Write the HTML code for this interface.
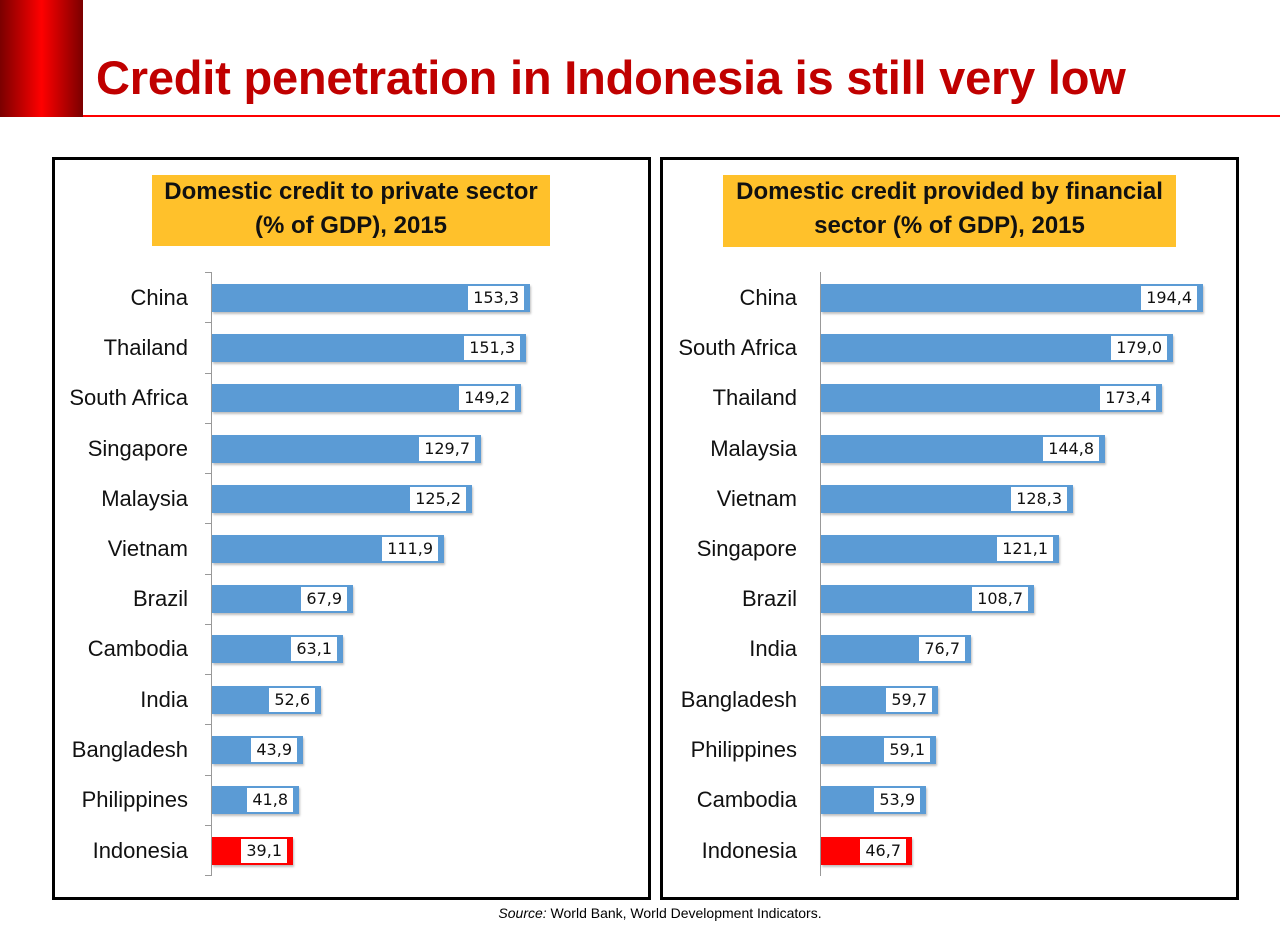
<!DOCTYPE html>
<html><head><meta charset="utf-8"><style>
body{margin:0;width:1280px;height:931px;background:#fff;position:relative;overflow:hidden;font-family:"Liberation Sans",sans-serif}
.redblk{position:absolute;left:0;top:0;width:83px;height:117px;background:linear-gradient(90deg,#7a0000,#ff0000 50%,#7a0000)}
.rline{position:absolute;left:83px;top:115px;width:1197px;height:2px;background:#ff0000}
.title{position:absolute;left:96px;top:50px;font-size:47px;font-weight:bold;color:#c00000;white-space:nowrap;letter-spacing:-0.2px}
.panel{position:absolute;top:157px;height:737px;border:3px solid #000;box-sizing:content-box}
.yb{position:absolute;background:#ffc12b;font-weight:bold;font-size:24px;text-align:center;line-height:34px;color:#111;white-space:nowrap}
.ax{position:absolute;width:1px;background:#999}
.tk{position:absolute;height:1px;width:6px;background:#999}
.cat{position:absolute;text-align:right;font-size:22px;color:#111;width:200px;line-height:28px}
.bar{position:absolute;height:28px;background:#5b9bd5;box-shadow:1px 2px 2px rgba(0,0,0,0.25)}
.bar.r{background:#ff0000}
.lb{position:absolute;right:6px;top:2px;height:24px;line-height:24px;background:#fff;font-family:"DejaVu Sans",sans-serif;font-size:16px;padding:0 5px;color:#111}
.src{position:absolute;top:905px;left:0;width:1320px;text-align:center;font-size:14px}
</style></head><body>
<div class="redblk"></div><div class="rline"></div>
<div class="title">Credit penetration in Indonesia is still very low</div>
<div class="panel" style="left:52px;width:593px"></div>
<div class="panel" style="left:660px;width:573px"></div>
<div class="yb" style="left:152px;top:175px;width:398px;height:71px">Domestic credit to private sector<br>(% of GDP), 2015</div>
<div class="yb" style="left:723px;top:175px;width:453px;height:72px">Domestic credit provided by financial<br>sector (% of GDP), 2015</div>

<div class="ax" style="left:211px;top:272px;height:604px"></div>
<div class="ax" style="left:820px;top:272px;height:604px"></div>

<!-- left -->
<div class="cat" style="left:-12px;top:284px">China</div><div class="bar" style="left:212px;top:284px;width:318px"><span class="lb">153,3</span></div>
<div class="cat" style="left:-12px;top:334px">Thailand</div><div class="bar" style="left:212px;top:334px;width:314px"><span class="lb">151,3</span></div>
<div class="cat" style="left:-12px;top:384px">South Africa</div><div class="bar" style="left:212px;top:384px;width:309px"><span class="lb">149,2</span></div>
<div class="cat" style="left:-12px;top:435px">Singapore</div><div class="bar" style="left:212px;top:435px;width:269px"><span class="lb">129,7</span></div>
<div class="cat" style="left:-12px;top:485px">Malaysia</div><div class="bar" style="left:212px;top:485px;width:260px"><span class="lb">125,2</span></div>
<div class="cat" style="left:-12px;top:535px">Vietnam</div><div class="bar" style="left:212px;top:535px;width:232px"><span class="lb">111,9</span></div>
<div class="cat" style="left:-12px;top:585px">Brazil</div><div class="bar" style="left:212px;top:585px;width:141px"><span class="lb">67,9</span></div>
<div class="cat" style="left:-12px;top:635px">Cambodia</div><div class="bar" style="left:212px;top:635px;width:131px"><span class="lb">63,1</span></div>
<div class="cat" style="left:-12px;top:686px">India</div><div class="bar" style="left:212px;top:686px;width:109px"><span class="lb">52,6</span></div>
<div class="cat" style="left:-12px;top:736px">Bangladesh</div><div class="bar" style="left:212px;top:736px;width:91px"><span class="lb">43,9</span></div>
<div class="cat" style="left:-12px;top:786px">Philippines</div><div class="bar" style="left:212px;top:786px;width:87px"><span class="lb">41,8</span></div>
<div class="cat" style="left:-12px;top:837px">Indonesia</div><div class="bar r" style="left:212px;top:837px;width:81px"><span class="lb">39,1</span></div>

<!-- right -->
<div class="cat" style="left:597px;top:284px">China</div><div class="bar" style="left:821px;top:284px;width:382px"><span class="lb">194,4</span></div>
<div class="cat" style="left:597px;top:334px">South Africa</div><div class="bar" style="left:821px;top:334px;width:352px"><span class="lb">179,0</span></div>
<div class="cat" style="left:597px;top:384px">Thailand</div><div class="bar" style="left:821px;top:384px;width:341px"><span class="lb">173,4</span></div>
<div class="cat" style="left:597px;top:435px">Malaysia</div><div class="bar" style="left:821px;top:435px;width:284px"><span class="lb">144,8</span></div>
<div class="cat" style="left:597px;top:485px">Vietnam</div><div class="bar" style="left:821px;top:485px;width:252px"><span class="lb">128,3</span></div>
<div class="cat" style="left:597px;top:535px">Singapore</div><div class="bar" style="left:821px;top:535px;width:238px"><span class="lb">121,1</span></div>
<div class="cat" style="left:597px;top:585px">Brazil</div><div class="bar" style="left:821px;top:585px;width:213px"><span class="lb">108,7</span></div>
<div class="cat" style="left:597px;top:635px">India</div><div class="bar" style="left:821px;top:635px;width:150px"><span class="lb">76,7</span></div>
<div class="cat" style="left:597px;top:686px">Bangladesh</div><div class="bar" style="left:821px;top:686px;width:117px"><span class="lb">59,7</span></div>
<div class="cat" style="left:597px;top:736px">Philippines</div><div class="bar" style="left:821px;top:736px;width:115px"><span class="lb">59,1</span></div>
<div class="cat" style="left:597px;top:786px">Cambodia</div><div class="bar" style="left:821px;top:786px;width:105px"><span class="lb">53,9</span></div>
<div class="cat" style="left:597px;top:837px">Indonesia</div><div class="bar r" style="left:821px;top:837px;width:91px"><span class="lb">46,7</span></div>

<!-- ticks left -->
<div class="tk" style="left:205px;top:272px"></div><div class="tk" style="left:205px;top:322px"></div><div class="tk" style="left:205px;top:373px"></div><div class="tk" style="left:205px;top:423px"></div><div class="tk" style="left:205px;top:473px"></div><div class="tk" style="left:205px;top:523px"></div><div class="tk" style="left:205px;top:574px"></div><div class="tk" style="left:205px;top:624px"></div><div class="tk" style="left:205px;top:674px"></div><div class="tk" style="left:205px;top:724px"></div><div class="tk" style="left:205px;top:775px"></div><div class="tk" style="left:205px;top:825px"></div><div class="tk" style="left:205px;top:875px"></div>

<div class="src"><i>Source:</i> World Bank, World Development Indicators.</div>
</body></html>
